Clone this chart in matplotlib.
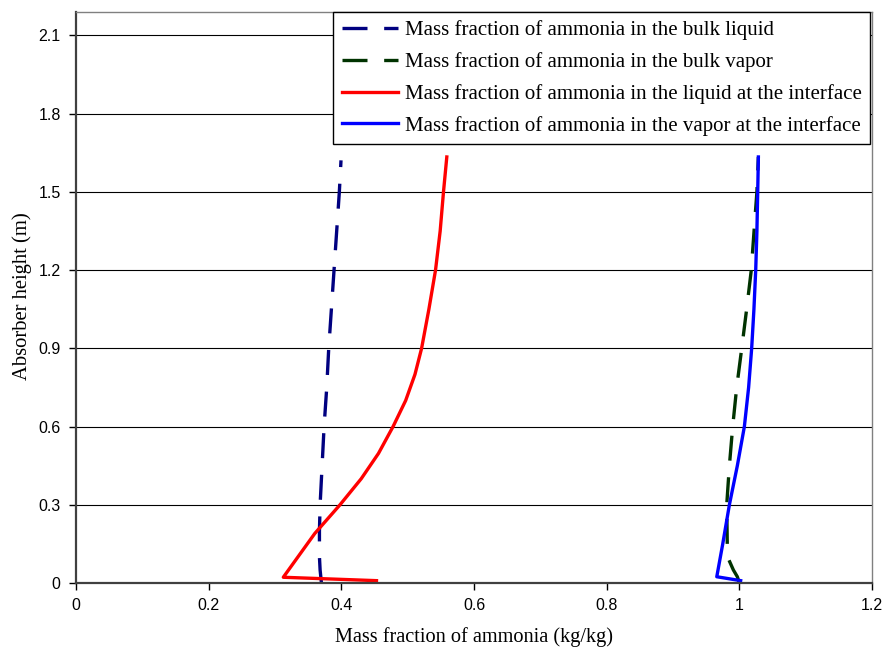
import matplotlib
matplotlib.use("Agg")
import matplotlib.pyplot as plt

# Data (x = mass fraction, y = absorber height)
bulk_liquid_x = [0.370, 0.368, 0.367, 0.367, 0.368, 0.371, 0.374, 0.378, 0.381, 0.385, 0.389, 0.393, 0.397, 0.3995]
bulk_liquid_y = [0.000, 0.050, 0.100, 0.200, 0.300, 0.450, 0.600, 0.750, 0.900, 1.050, 1.200, 1.350, 1.500, 1.621]

bulk_vapor_x = [1.000, 0.997, 0.991, 0.984, 0.982, 0.981, 0.985, 0.990, 0.996, 1.0036, 1.011, 1.018, 1.0237, 1.0265, 1.0287]
bulk_vapor_y = [0.000, 0.024, 0.050, 0.090, 0.114, 0.300, 0.450, 0.600, 0.750, 0.900, 1.050, 1.200, 1.404, 1.500, 1.634]

liq_int_x = [0.453, 0.3125, 0.360, 0.398, 0.430, 0.456, 0.478, 0.497, 0.511, 0.521, 0.532, 0.542, 0.549, 0.554, 0.559]
liq_int_y = [0.009, 0.022, 0.190, 0.300, 0.400, 0.497, 0.600, 0.700, 0.800, 0.900, 1.050, 1.200, 1.350, 1.500, 1.634]

vap_int_x = [1.002, 0.966, 0.975, 0.985, 0.997, 1.0076, 1.014, 1.0186, 1.022, 1.0247, 1.0265, 1.0277, 1.0287]
vap_int_y = [0.009, 0.024, 0.150, 0.300, 0.450, 0.600, 0.750, 0.900, 1.050, 1.200, 1.350, 1.500, 1.634]

labels = [
    "Mass fraction of ammonia in the bulk liquid",
    "Mass fraction of ammonia in the bulk vapor",
    "Mass fraction of ammonia in the liquid at the interface",
    "Mass fraction of ammonia in the vapor at the interface",
]
x_ticks = [0, 0.2, 0.4, 0.6, 0.8, 1.0, 1.2]
x_tick_labels = ["0", "0.2", "0.4", "0.6", "0.8", "1", "1.2"]
y_ticks = [0, 0.3, 0.6, 0.9, 1.2, 1.5, 1.8, 2.1]
y_tick_labels = ["0", "0.3", "0.6", "0.9", "1.2", "1.5", "1.8", "2.1"]

serif = ["Liberation Serif", "DejaVu Serif"]
sans = ["Liberation Sans", "DejaVu Sans"]

fig = plt.figure(figsize=(8.86, 6.53), dpi=100)
ax = fig.add_axes([76/886, 1-583/653, (872-76)/886, (583-12)/653])

ax.plot(bulk_liquid_x, bulk_liquid_y, color="#000080", lw=2.4, dashes=(7.5, 5), label=labels[0])
ax.plot(bulk_vapor_x, bulk_vapor_y, color="#003300", lw=2.4, dashes=(7.5, 5), label=labels[1])
ax.plot(liq_int_x, liq_int_y, color="#ff0000", lw=2.4, label=labels[2])
ax.plot(vap_int_x, vap_int_y, color="#0000ff", lw=2.4, label=labels[3])

ax.set_xlim(0, 1.2)
ax.set_ylim(0, 2.19)
ax.set_xticks(x_ticks)
ax.set_xticklabels(x_tick_labels, family=sans, fontsize=11.5)
ax.set_yticks(y_ticks)
ax.set_yticklabels(y_tick_labels, family=sans, fontsize=11.5)
ax.tick_params(axis="both", direction="out", length=5, width=1, color="#000000", pad=6)
ax.yaxis.grid(True, color="black", lw=0.8)
ax.set_axisbelow(True)
for s in ["top", "right"]:
    ax.spines[s].set_color("#808080")
    ax.spines[s].set_linewidth(1)
for s in ["left", "bottom"]:
    ax.spines[s].set_color("#404040")
    ax.spines[s].set_linewidth(1.6)

ax.set_xlabel("Mass fraction of ammonia (kg/kg)", family=serif, fontsize=14.6, labelpad=10)
ax.set_ylabel("Absorber height (m)", family=serif, fontsize=14.9)
ax.yaxis.set_label_coords(-(76 - 32) / 796, (583 - 296) / 571)

leg = ax.legend(loc="upper right", bbox_to_anchor=(870/886, 1-12/653), bbox_transform=fig.transFigure,
                prop={"family": serif, "size": 15}, frameon=True, fancybox=False,
                edgecolor="black", framealpha=1, handlelength=2.7, handletextpad=0.33,
                borderpad=0.4, labelspacing=0.57, borderaxespad=0)
leg.get_frame().set_linewidth(1)

fig.savefig("out.png", dpi=100)
